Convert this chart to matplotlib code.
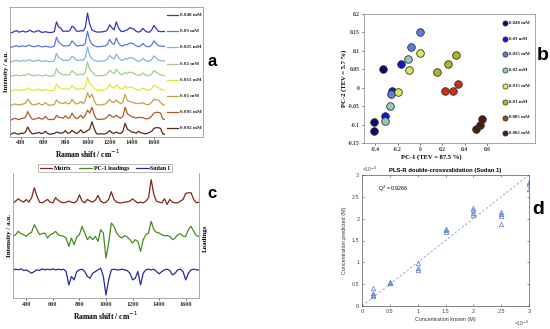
import numpy as np
import matplotlib
matplotlib.use("Agg")
import matplotlib.pyplot as plt
from matplotlib.lines import Line2D

W, H = 550, 329
SERIF = ["Liberation Serif", "DejaVu Serif"]
SANS = ["Liberation Sans", "DejaVu Sans"]

# ---------------- data ----------------
shift = np.arange(300, 1701, 20)

conc_labels = ["0.048 mM", "0.03 mM", "0.025 mM", "0.02 mM",
               "0.015 mM", "0.01 mM", "0.005 mM", "0.002 mM"]

# panel a spectra (top to bottom), arbitrary units, every 20 cm-1 from 300 to 1700
spec_0048 = [0.00, 0.02, 0.10, 0.15, 0.05, 0.08, 0.12, 0.05, 0.10, 0.18,
             0.08, 0.05, 0.12, 0.15, 0.05, 0.03, 0.08, 0.04, 0.02, 0.03,
             0.08, 0.75, 0.40, 0.30, 0.10, 0.12, 0.10, 0.15, 0.45, 0.35,
             0.12, 0.10, 0.15, 0.12, 0.35, 1.35, 0.60, 0.20, 0.12, 0.06,
             0.05, 0.06, 0.08, 0.10, 0.20, 0.55, 0.35, 0.20, 0.75, 0.35,
             0.12, 0.08, 0.15, 0.20, 0.35, 0.30, 0.25, 0.10, 0.05, 0.10,
             0.30, 0.15, 0.05, 0.05, 0.20, 0.50, 0.30, 0.10, 0.08, 0.10, 0.08]
spec_003 = [0.00, 0.03, 0.08, 0.12, 0.05, 0.07, 0.10, 0.05, 0.12, 0.15,
            0.07, 0.05, 0.10, 0.12, 0.05, 0.04, 0.10, 0.05, 0.02, 0.03,
            0.08, 0.70, 0.35, 0.25, 0.10, 0.12, 0.10, 0.15, 0.45, 0.30,
            0.12, 0.10, 0.15, 0.12, 0.30, 1.10, 0.50, 0.22, 0.12, 0.06,
            0.05, 0.06, 0.08, 0.10, 0.20, 0.55, 0.30, 0.20, 0.65, 0.30,
            0.12, 0.10, 0.20, 0.18, 0.30, 0.28, 0.22, 0.10, 0.05, 0.10,
            0.28, 0.12, 0.05, 0.05, 0.18, 0.45, 0.28, 0.12, 0.08, 0.08, 0.06]
spec_0025 = [0.00, 0.03, 0.08, 0.12, 0.05, 0.07, 0.10, 0.06, 0.14, 0.15,
             0.07, 0.05, 0.10, 0.12, 0.05, 0.04, 0.10, 0.05, 0.02, 0.03,
             0.08, 0.60, 0.30, 0.22, 0.10, 0.12, 0.10, 0.15, 0.40, 0.28,
             0.12, 0.10, 0.15, 0.12, 0.30, 1.00, 0.45, 0.22, 0.12, 0.06,
             0.05, 0.06, 0.08, 0.10, 0.20, 0.45, 0.30, 0.20, 0.55, 0.30,
             0.14, 0.12, 0.25, 0.18, 0.30, 0.28, 0.22, 0.10, 0.05, 0.10,
             0.25, 0.12, 0.05, 0.05, 0.18, 0.42, 0.28, 0.14, 0.10, 0.08, 0.06]
spec_002 = [0.00, 0.04, 0.08, 0.10, 0.05, 0.07, 0.10, 0.08, 0.18, 0.14,
            0.07, 0.06, 0.10, 0.12, 0.06, 0.05, 0.12, 0.06, 0.03, 0.03,
            0.08, 0.55, 0.28, 0.22, 0.10, 0.15, 0.10, 0.15, 0.40, 0.28,
            0.12, 0.12, 0.18, 0.12, 0.30, 1.00, 0.50, 0.35, 0.15, 0.06,
            0.05, 0.06, 0.08, 0.10, 0.20, 0.45, 0.30, 0.20, 0.50, 0.30,
            0.15, 0.15, 0.30, 0.20, 0.30, 0.28, 0.22, 0.12, 0.08, 0.10,
            0.25, 0.12, 0.06, 0.08, 0.18, 0.42, 0.30, 0.20, 0.12, 0.08, 0.06]
spec_0015 = [0.00, 0.04, 0.10, 0.10, 0.05, 0.08, 0.10, 0.10, 0.22, 0.14,
             0.07, 0.06, 0.10, 0.14, 0.06, 0.06, 0.14, 0.06, 0.03, 0.04,
             0.08, 0.50, 0.25, 0.22, 0.12, 0.18, 0.12, 0.15, 0.40, 0.26,
             0.12, 0.14, 0.20, 0.12, 0.30, 0.95, 0.50, 0.40, 0.18, 0.06,
             0.05, 0.06, 0.08, 0.10, 0.22, 0.45, 0.30, 0.20, 0.45, 0.28,
             0.15, 0.18, 0.35, 0.22, 0.28, 0.26, 0.20, 0.12, 0.08, 0.10,
             0.22, 0.12, 0.06, 0.08, 0.20, 0.42, 0.32, 0.25, 0.14, 0.08, 0.06]
spec_001 = [0.00, 0.05, 0.12, 0.10, 0.05, 0.10, 0.12, 0.18, 0.45, 0.25,
            0.08, 0.06, 0.10, 0.18, 0.08, 0.08, 0.22, 0.08, 0.04, 0.05,
            0.08, 0.40, 0.22, 0.20, 0.14, 0.25, 0.14, 0.15, 0.45, 0.25,
            0.12, 0.18, 0.30, 0.14, 0.35, 0.90, 0.55, 0.80, 0.35, 0.08,
            0.06, 0.06, 0.08, 0.12, 0.25, 0.45, 0.28, 0.22, 0.40, 0.25,
            0.15, 0.25, 0.80, 0.35, 0.30, 0.25, 0.20, 0.14, 0.18, 0.15,
            0.22, 0.12, 0.08, 0.10, 0.25, 0.45, 0.40, 0.40, 0.22, 0.08, 0.05]
spec_0005 = [0.00, 0.06, 0.14, 0.10, 0.05, 0.12, 0.14, 0.22, 0.60, 0.30,
             0.08, 0.08, 0.12, 0.20, 0.10, 0.10, 0.28, 0.10, 0.05, 0.06,
             0.08, 0.35, 0.20, 0.20, 0.15, 0.32, 0.15, 0.18, 0.50, 0.25,
             0.12, 0.20, 0.35, 0.15, 0.35, 0.70, 0.50, 0.90, 0.40, 0.10,
             0.06, 0.08, 0.08, 0.12, 0.25, 0.40, 0.25, 0.22, 0.35, 0.22,
             0.15, 0.30, 0.90, 0.45, 0.35, 0.25, 0.22, 0.15, 0.22, 0.18,
             0.20, 0.12, 0.10, 0.15, 0.30, 0.50, 0.55, 0.55, 0.50, 0.10, 0.05]
spec_0002 = [0.00, 0.10, 0.15, 0.08, 0.05, 0.12, 0.10, 0.20, 0.55, 0.25,
             0.08, 0.10, 0.12, 0.18, 0.10, 0.12, 0.25, 0.10, 0.05, 0.08,
             0.10, 0.20, 0.15, 0.12, 0.15, 0.30, 0.12, 0.15, 0.30, 0.20,
             0.10, 0.18, 0.35, 0.15, 0.20, 0.30, 0.40, 0.90, 0.45, 0.10,
             0.06, 0.08, 0.06, 0.08, 0.15, 0.30, 0.15, 0.12, 0.20, 0.12,
             0.10, 0.25, 0.80, 0.40, 0.30, 0.20, 0.18, 0.12, 0.25, 0.15,
             0.12, 0.08, 0.10, 0.18, 0.25, 0.45, 0.50, 0.50, 0.45, 0.08, 0.04]
spectra_a = [spec_0048, spec_003, spec_0025, spec_002,
             spec_0015, spec_001, spec_0005, spec_0002]
colors_a = ["#3434c8", "#5a78e0", "#86b4e6", "#a6cc92",
            "#e6e634", "#c8a048", "#b0582c", "#5a2818"]

# panel b scores (PC-1, PC-2), three replicates per concentration
pc1_0048 = [-0.33, -0.41, -0.41]
pc2_0048 = [0.050, -0.092, -0.118]
pc1_003 = [-0.17, -0.245, -0.31]
pc2_003 = [0.065, -0.010, -0.078]
pc1_0025 = [0.005, -0.075, -0.26]
pc2_0025 = [0.152, 0.110, -0.018]
pc1_002 = [-0.11, -0.27, -0.31]
pc2_002 = [0.078, -0.050, -0.090]
pc1_0015 = [0.005, -0.10, -0.195]
pc2_0015 = [0.095, 0.048, -0.012]
pc1_001 = [0.15, 0.255, 0.325]
pc2_001 = [0.042, 0.064, 0.089]
pc1_0005 = [0.226, 0.294, 0.338]
pc2_0005 = [-0.010, -0.010, 0.010]
pc1_0002 = [0.505, 0.540, 0.560]
pc2_0002 = [-0.113, -0.101, -0.086]
scores_pc1 = [pc1_0048, pc1_003, pc1_0025, pc1_002, pc1_0015, pc1_001, pc1_0005, pc1_0002]
scores_pc2 = [pc2_0048, pc2_003, pc2_0025, pc2_002, pc2_0015, pc2_001, pc2_0005, pc2_0002]
colors_b = ["#0a0a6e", "#1414d2", "#5a7be0", "#8fc8c0",
            "#d8ec50", "#b8b020", "#c8301a", "#4a1e0c"]
legend_colors_b = ["#0a0a6e", "#1414d2", "#5a7be0", "#8fc8c0",
                   "#d8ec50", "#b8b020", "#8b4a1a", "#4a1e0c"]

# panel c
matrix_spec = [0.00, 0.05, 0.12, 0.06, 0.02, 0.10, 0.02, 0.15, 0.45, 0.20,
               0.02, 0.00, 0.05, 0.10, 0.02, 0.00, 0.15, 0.08, 0.02, 0.00,
               0.02, 0.05, 0.02, 0.00, 0.05, 0.24, 0.05, 0.00, 0.10, 0.05,
               0.02, 0.08, 0.22, 0.05, 0.00, 0.02, 0.10, 0.33, 0.10, 0.02,
               0.00, 0.00, 0.02, 0.03, 0.05, 0.12, 0.05, 0.00, 0.02, 0.00,
               0.05, 0.15, 0.69, 0.25, 0.05, 0.02, 0.00, 0.12, -0.05, 0.10,
               0.02, 0.00, 0.00, 0.05, 0.10, 0.28, 0.30, 0.30, 0.10, 0.00, 0.02]
loadings_spec = [0.00, 0.05, 0.15, 0.08, 0.05, 0.00, 0.08, 0.12, 0.35, 0.20,
                 0.05, 0.08, 0.10, -0.05, 0.05, 0.08, 0.15, 0.05, 0.02, 0.00,
                 -0.05, -0.30, -0.05, -0.25, -0.02, 0.05, 0.30, 0.10, -0.10, 0.00,
                 -0.10, 0.00, -0.15, 0.20, 0.10, -0.65, -0.20, 0.40, 0.30, 0.10,
                 0.00, -0.05, 0.02, -0.02, -0.10, -0.20, -0.10, -0.15, -0.45, -0.10,
                 0.05, 0.10, 0.45, 0.20, 0.12, 0.10, 0.05, 0.02, 0.02, 0.00,
                 -0.10, -0.05, 0.05, 0.08, 0.00, 0.00, 0.20, 0.30, 0.15, 0.02, 0.00]
sudan_spec = [0.00, 0.02, 0.00, 0.03, -0.02, 0.00, -0.05, -0.10, -0.05, 0.00,
              -0.02, 0.03, 0.00, 0.02, 0.00, 0.03, 0.00, 0.02, 0.00, 0.02,
              -0.05, -0.45, -0.20, -0.30, -0.05, 0.00, 0.02, -0.05, -0.20, -0.25,
              -0.10, -0.05, 0.00, 0.05, -0.20, -0.75, -0.30, 0.00, 0.02, 0.00,
              0.00, 0.02, 0.00, -0.02, -0.10, -0.30, -0.25, -0.05, -0.45, -0.10,
              0.00, 0.02, 0.00, 0.02, -0.05, -0.12, -0.05, 0.00, 0.02, -0.02,
              -0.15, -0.10, 0.00, 0.02, -0.05, -0.30, -0.10, 0.00, 0.02, 0.00, 0.00]
spectra_c = [matrix_spec, loadings_spec, sudan_spec]
labels_c = ["Matrix", "PC-1 loadings", "Sudan I"]
colors_c = ["#7a2a1a", "#4a8a20", "#2a2a9a"]

# panel d (x 1e-6 M)
known = [0.2, 0.2, 0.2, 0.2, 0.5, 0.5, 0.5, 1.0, 1.0, 1.0,
         1.5, 1.5, 1.5, 2.0, 2.0, 2.0, 2.0, 2.5, 2.5, 2.5, 2.5,
         3.0, 3.0, 3.0]
predicted = [0.41, 0.30, 0.26, 0.23, 0.55, 0.53, 0.52, 0.98, 0.86, 0.83,
             1.76, 1.73, 1.70, 2.25, 2.20, 2.12, 2.08, 2.15, 2.10, 2.05, 1.88,
             2.85, 2.80, 2.68]


def rect(x0, y0, x1, y1):
    return [x0 / W, 1 - y1 / H, (x1 - x0) / W, (y1 - y0) / H]


fig = plt.figure(figsize=(W / 100, H / 100), dpi=100)
frame_c = "#9a9a9a"

# ---------------- panel a ----------------
ax = fig.add_axes(rect(10, 7, 165, 137))
offsets = np.arange(len(spectra_a))[::-1]
for spec, off, col in zip(spectra_a, offsets, colors_a):
    ax.plot(shift, np.array(spec) + off, color=col, lw=0.9)
ax.set_xlim(300, 1700)
ax.set_ylim(-0.14, 8.77)
ax.set_yticks([])
ax.set_xticks(range(400, 1601, 200))
ax.tick_params(axis="x", length=1.5, width=0.5, pad=1, labelsize=4.5, colors="#333")
for lab in ax.get_xticklabels():
    lab.set_family(SERIF)
    lab.set_fontweight("bold")
ax.spines["right"].set_visible(False)
for s in ["left", "top", "bottom"]:
    ax.spines[s].set_color(frame_c)
    ax.spines[s].set_linewidth(0.6)
ax.set_xlabel("Raman shift / cm$^{-1}$", family=SERIF, weight="bold", fontsize=5.5, labelpad=1.5)
ax.set_ylabel("Intensity / a.u.", family=SERIF, weight="bold", fontsize=4.8, labelpad=1)

axl = fig.add_axes(rect(165, 7, 203, 137))
axl.set_xlim(165, 203)
axl.set_ylim(137, 7)
axl.set_xticks([])
axl.set_yticks([])
axl.spines["left"].set_visible(False)
for s in ["right", "top", "bottom"]:
    axl.spines[s].set_color(frame_c)
    axl.spines[s].set_linewidth(0.6)
for k, (lab, col) in enumerate(zip(conc_labels, colors_a)):
    yk = 15 + 16.2 * k
    axl.plot([167, 178], [yk, yk], color=col, lw=0.9)
    axl.text(179.5, yk, lab, fontsize=3.6, family=SERIF, weight="bold", va="center", color="#222")
fig.text(212 / W, 1 - 61 / H, "a", fontsize=12, weight="bold", family=SANS, ha="center", va="center")

# ---------------- panel b ----------------
ax = fig.add_axes(rect(364, 14, 498, 143))
for xs, ys, col in zip(scores_pc1, scores_pc2, colors_b):
    ax.scatter(xs, ys, s=30, color=col, edgecolors="#333", linewidths=0.6, zorder=3)
ax.set_xlim(-0.5, 0.7)
ax.set_ylim(-0.15, 0.2)
ax.set_xticks([-0.4, -0.2, 0, 0.2, 0.4, 0.6])
ax.set_xticklabels(["-0.4", "-0.2", "0", "0.2", "0.4", "0.6"])
ax.set_yticks([-0.15, -0.1, -0.05, 0, 0.05, 0.1, 0.15, 0.2])
ax.set_yticklabels(["-0.15", "-0.1", "-0.05", "0", "0.05", "0.1", "0.15", "0.2"])
ax.tick_params(length=1.5, width=0.5, pad=1.5, labelsize=4, colors="#333")
for lab in ax.get_xticklabels() + ax.get_yticklabels():
    lab.set_family(SERIF)
    lab.set_fontweight("bold")
for s in ax.spines.values():
    s.set_color(frame_c)
    s.set_linewidth(0.6)
ax.set_xlabel("PC-1 (TEV = 87.5 %)", family=SERIF, weight="bold", fontsize=4.8, labelpad=1.5)
ax.set_ylabel("PC-2 (TEV = 5.7 %)", family=SERIF, weight="bold", fontsize=4.8, labelpad=1)

axl = fig.add_axes(rect(498, 14, 535, 143))
axl.set_xlim(498, 535)
axl.set_ylim(143, 14)
axl.set_xticks([])
axl.set_yticks([])
axl.spines["left"].set_visible(False)
for s in ["right", "top", "bottom"]:
    axl.spines[s].set_color(frame_c)
    axl.spines[s].set_linewidth(0.6)
for k, (lab, col) in enumerate(zip(conc_labels, legend_colors_b)):
    yk = 22.7 + 15.8 * k
    axl.scatter([505], [yk], s=14, color=col, edgecolors="#333", linewidths=0.5)
    axl.text(509, yk, lab, fontsize=3.5, family=SERIF, weight="bold", va="center", color="#222")
fig.text(543 / W, 1 - 55 / H, "b", fontsize=14, weight="bold", family=SANS, ha="center", va="center")

# ---------------- panel c ----------------
ax = fig.add_axes(rect(13, 173, 199, 298))
offsets_c = [2.8, 1.8, 0.8]
handles = []
for spec, off, col, lab in zip(spectra_c, offsets_c, colors_c, labels_c):
    ln, = ax.plot(shift, np.array(spec) + off, color=col, lw=0.9, label=lab)
    handles.append(ln)
ax.set_xlim(300, 1700)
ax.set_ylim(-0.04, 3.69)
ax.set_yticks([])
ax.set_xticks(range(400, 1601, 200))
ax.tick_params(axis="x", length=1.5, width=0.5, pad=1.5, labelsize=4.5, colors="#333")
for lab in ax.get_xticklabels():
    lab.set_family(SERIF)
    lab.set_fontweight("bold")
ax.spines["top"].set_visible(False)
for s in ["left", "right", "bottom"]:
    ax.spines[s].set_color(frame_c)
    ax.spines[s].set_linewidth(0.6)
ax.set_xlabel("Raman shift / cm$^{-1}$", family=SERIF, weight="bold", fontsize=5.5, labelpad=1.5)
ax.set_ylabel("Intensity / a.u.", family=SERIF, weight="bold", fontsize=5, labelpad=1)
fig.text(205 / W, 1 - 238 / H, "Loadings", rotation=90, family=SERIF, weight="bold",
         fontsize=5, ha="center", va="center")
leg = fig.legend(handles=handles, loc="center", bbox_to_anchor=(105 / W, 1 - 168 / H), ncol=3,
                 prop={"family": SERIF, "weight": "bold", "size": 4.2}, frameon=True,
                 fancybox=False, handlelength=2.2, handletextpad=0.3, columnspacing=1.2,
                 borderpad=0.25, borderaxespad=0)
leg.get_frame().set_edgecolor(frame_c)
leg.get_frame().set_linewidth(0.6)
fig.text(212 / W, 1 - 194 / H, "c", fontsize=12, weight="bold", family=SANS, ha="center", va="center")

# ---------------- panel d ----------------
ax = fig.add_axes(rect(362, 175, 529, 306))
ax.plot([0, 3], [0, 3], ls="--", color="#8fb0dc", lw=0.7, dashes=(2.5, 2))
ax.plot(known, predicted, ls="none", marker="^", ms=3.2, mfc="none", mec="#5b7fc4", mew=0.5)
ax.set_xlim(0, 3)
ax.set_ylim(0, 3)
ticks_d = [0, 0.5, 1, 1.5, 2, 2.5, 3]
tick_lbl_d = ["0", "0.5", "1", "1.5", "2", "2.5", "3"]
ax.set_xticks(ticks_d)
ax.set_xticklabels(tick_lbl_d)
ax.set_yticks(ticks_d)
ax.set_yticklabels(tick_lbl_d)
ax.tick_params(direction="in", length=1.5, width=0.4, pad=2, labelsize=4, colors="#444",
               top=True, right=True)
for lab in ax.get_xticklabels() + ax.get_yticklabels():
    lab.set_family(SANS)
for s in ax.spines.values():
    s.set_color("#555")
    s.set_linewidth(0.5)
ax.set_title("PLS-R double-crossvalidation (Sudan 1)", family=SANS, weight="bold",
             fontsize=4.2, pad=2)
ax.set_xlabel("Concentration known (M)", family=SANS, fontsize=3.9, color="#333", labelpad=2)
ax.set_ylabel("Concentration predicted (M)", family=SANS, fontsize=3.9, color="#333", labelpad=3)
ax.text(0.29, 2.68, "Q$^2$ = 0.9266", family=SANS, fontsize=3.8, va="center")
ax.text(0.0, 1.01, "×10$^{-6}$", transform=ax.transAxes, family=SANS, fontsize=3.5,
        color="#444", ha="left", va="bottom")
ax.text(1.0, -0.1, "×10$^{-6}$", transform=ax.transAxes, family=SANS, fontsize=3.5,
        color="#444", ha="right", va="top")
fig.text(538 / W, 1 - 210 / H, "d", fontsize=14, weight="bold", family=SANS, ha="center", va="center")

fig.savefig("out.png", dpi=100)
